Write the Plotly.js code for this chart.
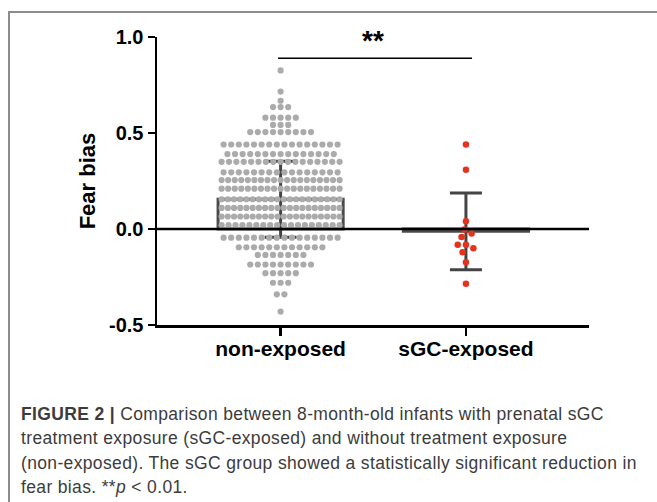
<!DOCTYPE html>
<html><head><meta charset="utf-8">
<script src="https://cdn.plot.ly/plotly-3.0.1.min.js"></script>
<style>
body{margin:0;background:#fff;width:657px;height:502px;overflow:hidden;position:relative;font-family:"Liberation Sans",Arial,sans-serif}
#frame{position:absolute;left:8px;top:11px;right:-5px;bottom:-5px;border-left:2px solid #8c8c8c;border-top:2px solid #8c8c8c}
#chart{position:absolute;left:0;top:0;width:657px;height:502px}
#caption{position:absolute;left:21px;top:402px;font-size:17.5px;letter-spacing:0.35px;line-height:24.4px;color:#3c3c3c;white-space:nowrap}
</style></head><body>
<div id="frame"></div>
<div id="chart"></div>
<div id="caption"><b>FIGURE 2 |</b> Comparison between 8-month-old infants with prenatal sGC<br>treatment exposure (sGC-exposed) and without treatment exposure<br>(non-exposed). The sGC group showed a statistically significant reduction in<br>fear bias. **<i>p</i> &lt; 0.01.</div>
<script>
// ---- data ----
const categories = ["non-exposed", "sGC-exposed"];
const barMeans = [0.155, -0.012];
const barSD = [0.198, 0.200];
// non-exposed swarm: value of each row and number of dots in it
const nonExposedRowValues = [0.826, 0.716, 0.668, 0.635, 0.58, 0.542, 0.505, 0.44, 0.39, 0.35, 0.295, 0.255, 0.21, 0.155, 0.11, 0.065, 0.02, -0.045, -0.095, -0.135, -0.185, -0.23, -0.28, -0.34, -0.43];
const nonExposedRowCounts = [1, 1, 1, 3, 5, 3, 9, 16, 15, 17, 16, 19, 19, 20, 20, 20, 18, 16, 12, 7, 9, 5, 3, 2, 1];
const sgcExposedValues = [0.44, 0.309, 0.04, -0.002, -0.023, -0.042, -0.082, -0.082, -0.10, -0.121, -0.173, -0.285];
const yTickVals = [-0.5, 0, 0.5, 1.0];
const yTickText = ["-0.5", "0.0", "0.5", "1.0"];
const sigLabel = "**";
const sigLevel = 0.889;

// ---- geometry helpers (layout of the dots) ----
const xRange = [-0.667, 1.664];
const yRange = [-0.5, 1.0];
const plotW = 432, plotH = 288;
const pxX = plotW / (xRange[1] - xRange[0]);
const pxY = plotH / (yRange[1] - yRange[0]);

// rows of the non-exposed swarm
const grayX = [], grayY = [];
nonExposedRowValues.forEach((v, r) => {
  const n = nonExposedRowCounts[r];
  const sp = n > 1 ? Math.min(7.6, 118 / (n - 1)) : 0;
  for (let i = 0; i < n; i++) {
    grayX.push(0 + ((i - (n - 1) / 2) * sp) / pxX);
    grayY.push(v);
  }
});

// simple beeswarm for the sGC group
function swarm(vals, center, diam) {
  const placed = [];
  const order = vals.map((v, i) => i).sort((a, b) => vals[b] - vals[a]);
  const xs = new Array(vals.length);
  order.forEach(i => {
    const yp = vals[i] * pxY;
    const cands = [0];
    placed.forEach(p => {
      const dy = Math.abs(p.y - yp);
      if (dy < diam) {
        const dx = Math.sqrt(diam * diam - dy * dy);
        cands.push(p.x - dx, p.x + dx);
      }
    });
    cands.sort((a, b) => Math.abs(a) - Math.abs(b));
    let best = 0;
    for (const c of cands) {
      let ok = true;
      for (const p of placed) {
        const dx = p.x - c, dy = p.y - yp;
        if (dx * dx + dy * dy < diam * diam - 0.01) { ok = false; break; }
      }
      if (ok) { best = c; break; }
    }
    placed.push({ x: best, y: yp });
    xs[i] = center + best / pxX;
  });
  return xs;
}
const redX = swarm(sgcExposedValues, 1, 8.2);

const traces = [
  {
    type: "bar", x: [0, 1], y: barMeans, width: 0.675,
    marker: { color: "rgba(0,0,0,0)", line: { color: "#4a4a4a", width: 3 } },
    error_y: { type: "data", array: barSD, visible: true, color: "#444", thickness: 3, width: 16 },
    hoverinfo: "skip"
  },
  {
    type: "scatter", mode: "markers", x: grayX, y: grayY,
    marker: { color: "#ababab", size: 6.2 }, hoverinfo: "skip"
  },
  {
    type: "scatter", mode: "markers", x: redX, y: sgcExposedValues,
    marker: { color: "#e5321d", size: 6.5 }, hoverinfo: "skip"
  }
];

const boldFont = "'Liberation Sans', Arial, sans-serif";
const layout = {
  width: 657, height: 502,
  margin: { l: 157, r: 68, t: 37, b: 177, pad: 0 },
  paper_bgcolor: "rgba(0,0,0,0)", plot_bgcolor: "rgba(0,0,0,0)",
  showlegend: false,
  xaxis: {
    range: xRange, tickvals: [0, 1], ticktext: categories.map(c => "<b>" + c + "</b>"),
    showline: true, linecolor: "#000", linewidth: 2.5, showgrid: false, zeroline: false,
    ticks: "outside", ticklen: 8, tickwidth: 2.5, tickcolor: "#000", ticklabelstandoff: -5,
    tickfont: { family: boldFont, size: 21, color: "#000" }
  },
  yaxis: {
    range: yRange, tickvals: yTickVals, ticktext: yTickText.map(t => "<b>" + t + "</b>"),
    showline: true, linecolor: "#000", linewidth: 2.5, showgrid: false, zeroline: false,
    ticks: "outside", ticklen: 7, tickwidth: 2.5, tickcolor: "#000",
    tickfont: { family: boldFont, size: 20, color: "#000" },
    title: { text: "<b>Fear bias</b>", font: { family: boldFont, size: 22, color: "#000" }, standoff: 8 }
  },
  shapes: [
    { type: "line", xref: "x", yref: "y", x0: xRange[0], x1: xRange[1], y0: 0, y1: 0, line: { color: "#000", width: 2.5 }, layer: "above" },
    { type: "line", xref: "x", yref: "y", x0: -0.014, x1: 1.033, y0: sigLevel, y1: sigLevel, line: { color: "#000", width: 1.5 } }
  ],
  annotations: [
    { xref: "x", yref: "y", x: 0.5, y: sigLevel, yanchor: "bottom", showarrow: false,
      text: "<b>" + sigLabel + "</b>", font: { family: boldFont, size: 28, color: "#000" }, yshift: 0 }
  ]
};
Plotly.newPlot("chart", traces, layout, { staticPlot: true, displayModeBar: false });
</script>
</body></html>
